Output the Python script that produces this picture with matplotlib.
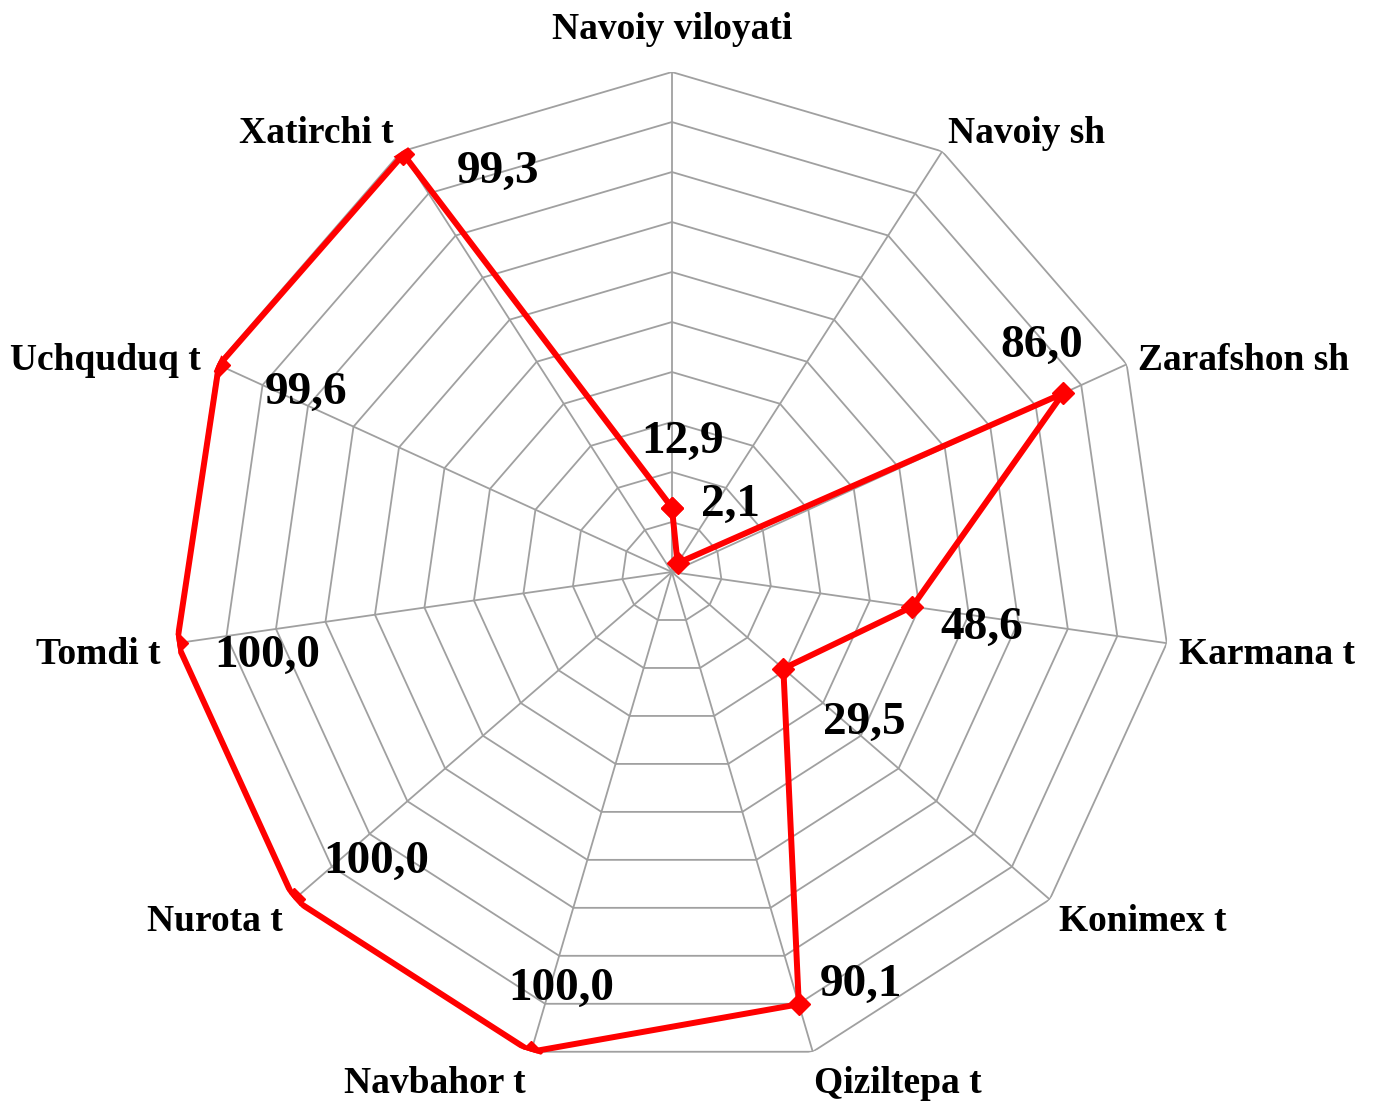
import numpy as np
import matplotlib
matplotlib.use("Agg")
import matplotlib.pyplot as plt

categories = ["Navoiy viloyati", "Navoiy sh", "Zarafshon sh", "Karmana t", "Konimex t",
              "Qiziltepa t", "Navbahor t", "Nurota t", "Tomdi t", "Uchquduq t", "Xatirchi t"]
values = [12.9, 2.1, 86.0, 48.6, 29.5, 90.1, 100.0, 100.0, 100.0, 99.6, 99.3]
value_labels = ["12,9", "2,1", "86,0", "48,6", "29,5", "90,1",
                "100,0", "100,0", "100,0", "99,6", "99,3"]

# offsets (points) of the data label centres from each marker
label_offsets = [(8, 47), (38, 42), (-15, 34), (50, -15), (58, -39), (45, 14),
                 (22, 45), (59, 27), (65, -9), (63, -20), (68, -13)]
# offsets (points, to the text baseline) + alignment for the category names
cat_offsets = [((0, 24), "center"), ((4, 6), "left"), ((8, -4), "left"),
               ((9, -15), "left"), ((7, -23), "left"), ((1, -30), "left"),
               ((-4, -30), "right"), ((-8, -23), "right"), ((-12, -15), "right"),
               ((-12, -4), "right"), ((-6, 6), "right")]

plt.rcParams["font.family"] = ["Liberation Serif", "DejaVu Serif"]

n = len(categories)
angles = np.arange(n) * 2 * np.pi / n
closed = np.append(angles, angles[0])

fig = plt.figure(figsize=(13.74, 11.03), dpi=100)
ax = fig.add_axes([0.1251, 0.0281, 0.7278, 0.9066], projection="polar")
ax.set_theta_zero_location("N")
ax.set_theta_direction(-1)
ax.set_ylim(0, 100)
ax.grid(False)
ax.spines["polar"].set_visible(False)
ax.set_xticks([])
ax.set_yticks([])

grid_color = "#a0a0a0"
for r in range(10, 101, 10):
    ax.plot(closed, [r] * (n + 1), color=grid_color, lw=1.3, zorder=1)
for a in angles:
    ax.plot([a, a], [0, 100], color=grid_color, lw=1.3, zorder=1)

vals_closed = values + [values[0]]
ax.plot(closed, vals_closed, color="#ff0000", lw=4.3, zorder=3,
        marker="D", markersize=11, markerfacecolor="#ff0000", markeredgecolor="#ff0000")

for a, v, lab, off in zip(angles, values, value_labels, label_offsets):
    ax.annotate(lab, xy=(a, v), xytext=off, textcoords="offset points",
                ha="center", va="center", fontsize=34, fontweight="bold", zorder=4)

for a, cat, (off, ha) in zip(angles, categories, cat_offsets):
    ax.annotate(cat, xy=(a, 100), xytext=off, textcoords="offset points",
                ha=ha, va="baseline", fontsize=27, fontweight="bold",
                annotation_clip=False)

fig.savefig("out.png", dpi=100)
